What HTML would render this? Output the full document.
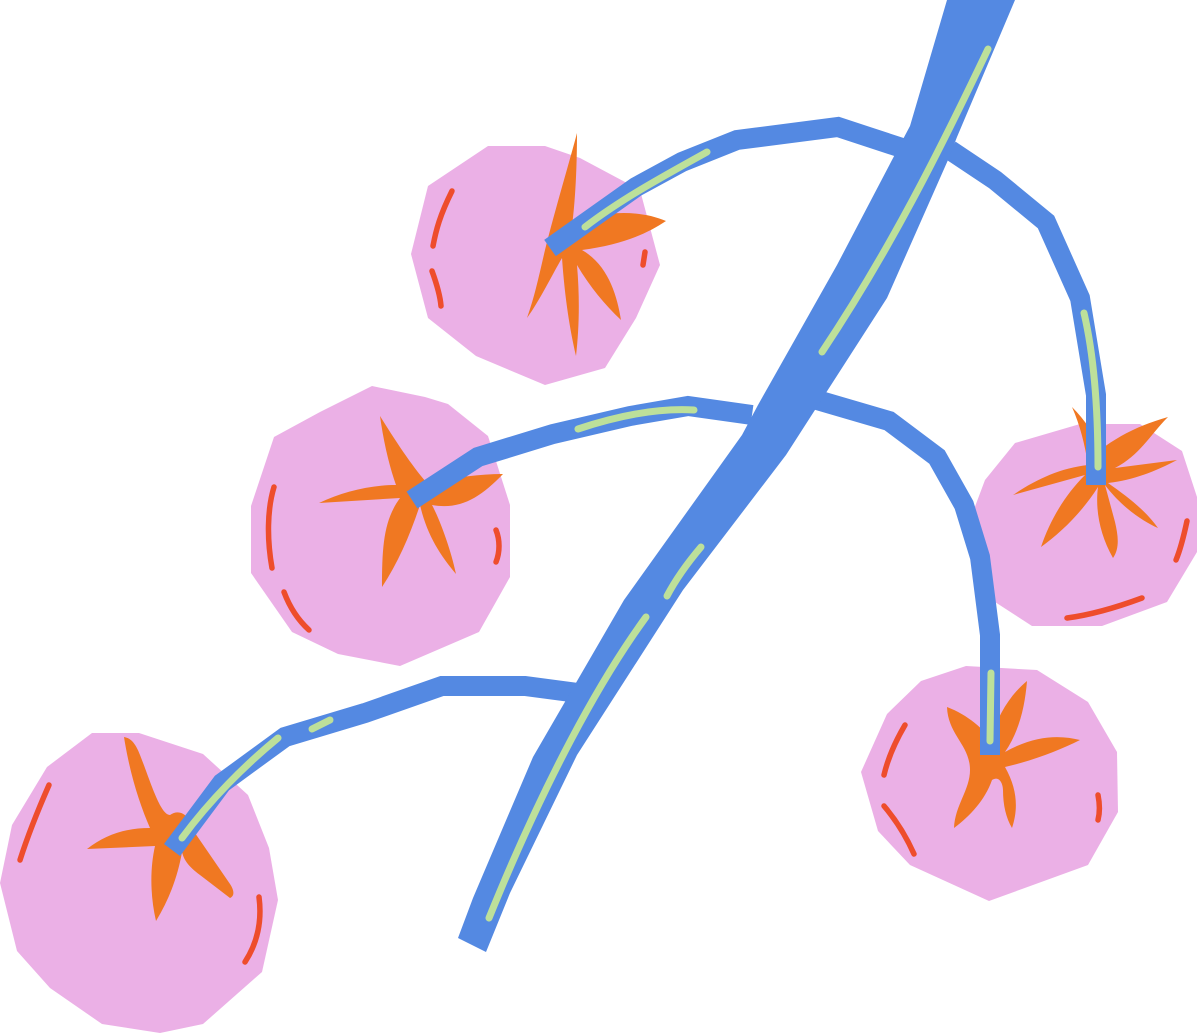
<!DOCTYPE html>
<html><head><meta charset="utf-8"><style>
html,body{margin:0;padding:0;background:#fff;}
svg{display:block;}
</style></head><body>
<svg width="1198" height="1034" viewBox="0 0 1198 1034" xmlns="http://www.w3.org/2000/svg">
<g fill="#ebb0e6">
<polygon points="488,146 545,146 580,158 640,190 660,265 636,318 605,368 545,385 476,356 428,318 411,254 428,186"/>
<polygon points="372,386 425,397 448,404 488,436 510,505 510,577 479,632 400,666 338,654 292,632 251,573 251,506 274,437 320,412"/>
<polygon points="1015,443 1080,424 1140,424 1182,451 1197,497 1197,552 1167,602 1102,626 1032,626 995,602 970,520 985,480"/>
<polygon points="966,666 1037,670 1088,702 1117,752 1118,812 1088,865 989,901 910,865 878,831 861,772 887,714 921,681"/>
<polygon points="92,733 139,733 203,754 248,795 269,848 278,900 262,972 203,1024 160,1033 102,1024 50,988 17,951 0,883 12,825 47,767"/>
</g>
<g fill="#f07822">
<path d="M577,133 C570,160 555,210 545,250 C538,280 535,295 527,318 C540,300 552,275 562,258 C565,300 570,330 576,356 C579,330 580,300 577,265 C590,287 605,305 621,320 C617,295 608,265 582,250 C620,245 645,235 666,221 C645,212 615,210 590,218 L570,240 C575,210 577,170 577,133 Z"/>
<path d="M380,416 C384,445 390,468 396,485 C370,485 342,492 319,503 L400,498 C384,520 382,545 382,587 C398,563 410,535 420,505 C427,535 440,555 456,574 C451,550 440,520 432,505 C460,510 480,498 503,474 C480,474 455,477 428,484 C415,470 398,445 380,416 Z"/>
<path d="M1072,407 C1080,425 1085,445 1088,465 C1060,468 1035,480 1013,495 L1085,475 C1065,495 1050,520 1041,547 C1060,533 1080,515 1098,487 C1095,510 1100,535 1113,558 C1120,548 1118,535 1115,522 L1105,485 C1120,505 1140,520 1158,528 C1145,510 1128,497 1108,483 C1135,480 1158,470 1177,460 L1115,468 C1140,455 1150,435 1168,417 C1140,425 1120,435 1100,450 C1095,435 1085,420 1072,407 Z"/>
<path d="M947,707 C948,735 970,745 970,770 C970,790 955,805 954,828 C970,816 985,800 992,780 C1000,775 1003,785 1003,790 C1003,805 1006,818 1012,828 C1018,810 1018,790 1005,767 C1035,760 1060,750 1080,740 C1060,735 1035,735 1005,752 C1020,730 1025,705 1027,681 C1010,695 998,715 990,740 C985,730 968,715 947,707 Z"/>
<path d="M124,737 C130,775 140,805 150,828 C125,828 105,835 87,849 L155,846 C150,868 150,895 156,921 C170,898 178,875 182,852 C184,860 188,866 200,875 L230,898 C235,896 234,890 230,884 L195,833 C190,815 180,808 170,815 C160,815 150,780 140,755 C135,742 130,738 124,737 Z"/>
</g>
<g stroke="#ee4d2c" stroke-width="5.5" stroke-linecap="round" fill="none">
<path d="M452,191 C440,215 436,230 433,246"/>
<path d="M432,271 C436,282 440,294 441,306"/>
<path d="M645,252 L643,265"/>
<path d="M274,487 C267,510 267,540 272,568"/>
<path d="M284,592 C290,608 298,620 309,630"/>
<path d="M496,530 C500,540 500,552 496,562"/>
<path d="M1187,521 C1184,535 1181,548 1176,560"/>
<path d="M1067,618 C1090,615 1115,608 1142,598"/>
<path d="M905,725 C895,742 888,758 884,775"/>
<path d="M884,806 C896,820 906,836 914,854"/>
<path d="M1098,795 C1100,805 1100,812 1098,820"/>
<path d="M49,785 C38,810 28,835 20,860"/>
<path d="M259,897 C262,920 258,942 245,962"/>
</g>
<g fill="none" stroke="#5489e2" stroke-width="20" stroke-linejoin="miter">
<polyline points="902,148 838,127 737,140 682,162 636,187 550,248"/>
<polyline points="950,150 995,180 1046,222 1080,298 1096,395 1096,485"/>
<polyline points="752,415 688,406 630,416 553,434 478,457 412,500"/>
<polyline points="800,395 889,421 937,457 964,505 980,557 990,635 990,755"/>
<polyline points="578,693 525,686 442,686 365,713 285,737 222,783 172,850"/>
</g>
<polygon fill="#5489e2" points="947,0 1015,0 957,137 948,160 887,298 786,455 683,590 577,755 510,893 486,952 458,938 473,898 533,757 624,600 742,435 758,405 837,265 892,160 910,126"/>
<g stroke="#bde09a" stroke-width="7" stroke-linecap="round" fill="none">
<path d="M988,49 C940,150 890,250 822,352"/>
<path d="M707,152 C660,178 620,200 585,227"/>
<path d="M1084,313 C1095,360 1098,420 1098,467"/>
<path d="M578,429 C620,415 660,408 694,410"/>
<path d="M991,673 L990,741"/>
<path d="M701,547 C690,560 677,577 667,596"/>
<path d="M646,617 C600,680 545,780 489,918"/>
<path d="M278,738 C245,765 210,800 182,838"/>
<path d="M330,720 L312,729"/>
</g>
</svg>
</body></html>
